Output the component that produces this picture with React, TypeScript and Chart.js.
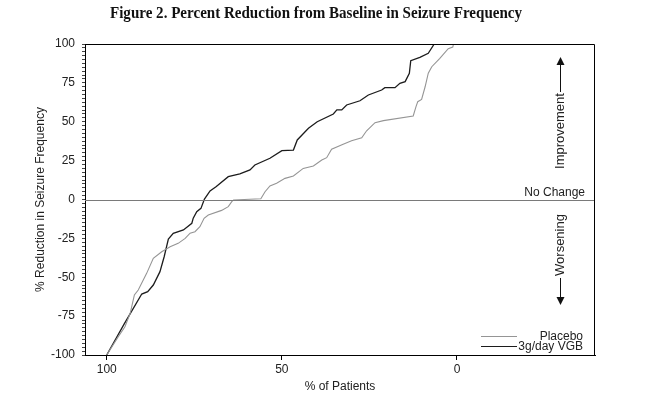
import React, { useEffect, useRef } from "react";
import { Chart, registerables } from "chart.js";

Chart.register(...registerables);

// ---- Data ----
const vgbPct = [100, 95, 90, 88.3, 86.7, 84.8, 83.6, 82.4, 81.0, 78.1, 75.7, 75.3, 74.3, 73.1, 72.1, 70.5, 68.8, 65.3, 62.0, 59.1, 57.7, 53.4, 50.0, 46.7, 45.6, 42.4, 39.9, 35.3, 34.3, 32.9, 31.5, 27.7, 25.3, 21.5, 20.6, 17.7, 16.3, 14.8, 13.6, 13.2, 10.6, 8.2, 6.5];
const vgbReduction = [-100, -80, -60.8, -59.3, -55, -46.4, -36.8, -25.4, -21.8, -19.6, -15.3, -12, -7.8, -5.7, 0.3, 5.5, 8.2, 14.7, 16.5, 19, 22.2, 26.5, 31.4, 31.8, 38.3, 45.8, 50, 55, 57.6, 57.6, 60.8, 63.5, 67.2, 70.4, 71.9, 71.9, 74.7, 75.8, 81.2, 89.3, 91.4, 94, 100];

const placeboPct = [100, 96.7, 94.8, 93.3, 92.1, 91.0, 88.6, 86.7, 84.3, 81.9, 79.6, 77.6, 76.2, 74.8, 73.4, 72.2, 71.0, 67.2, 65.3, 64.3, 63.8, 56.0, 54.8, 53.4, 51.5, 49.1, 46.7, 43.9, 41.0, 38.6, 37.2, 35.8, 32.5, 30.1, 27.2, 25.8, 23.4, 21.0, 12.5, 11.7, 11.2, 10.1, 9.1, 8.2, 7.2, 4.9, 2.5, 1.2, 1.0];
const placeboReduction = [-100, -88.2, -81.8, -73.2, -61.4, -58.2, -47.5, -37.8, -33.6, -30.4, -28.2, -25, -21.7, -20.7, -17.5, -12.1, -10, -7, -4.6, -1.4, -0.3, 0.5, 5, 8.7, 10.4, 13.6, 15.1, 20, 21.5, 25.4, 26.9, 32.3, 35.5, 37.8, 39.7, 44.2, 49.4, 50.7, 53.7, 59.7, 62.9, 64.4, 72.5, 81.2, 85.4, 90.8, 97, 98, 100];

const seriesLabels = ["Placebo", "3g/day VGB"];
const xTickValues = [100, 50, 0];
const yTickLabels = [-100, -75, -50, -25, 0, 25, 50, 75, 100];
const yMinorStep = 2.5;

const titleText = "Figure 2. Percent Reduction from Baseline in Seizure Frequency";
const xTitle = "% of Patients";
const yTitle = "% Reduction in Seizure Frequency";
const upLabel = "Improvement";
const downLabel = "Worsening";
const zeroLabel = "No Change";

const SANS = "'Liberation Sans', Arial, sans-serif";

const decorPlugin = {
  id: "decor",
  afterDraw(chart: any) {
    const { ctx, chartArea, scales } = chart;
    const { left, right, top, bottom } = chartArea;
    const y0 = scales.y.getPixelForValue(0);
    ctx.save();

    // zero line
    ctx.strokeStyle = "#7a7a7a";
    ctx.lineWidth = 1;
    ctx.beginPath();
    ctx.moveTo(left, Math.round(y0) + 0.5);
    ctx.lineTo(right, Math.round(y0) + 0.5);
    ctx.stroke();

    // top and right border
    ctx.strokeStyle = "#000";
    ctx.beginPath();
    ctx.moveTo(left, top + 0.5);
    ctx.lineTo(right - 0.5, top + 0.5);
    ctx.lineTo(right - 0.5, bottom);
    ctx.stroke();

    // title
    ctx.fillStyle = "#111";
    ctx.font = "bold 16px 'Liberation Serif', 'Times New Roman', serif";
    ctx.textAlign = "center";
    ctx.textBaseline = "middle";
    const w = ctx.measureText(titleText).width;
    ctx.save();
    ctx.translate(316, 14);
    ctx.scale(412 / w, 1);
    ctx.fillText(titleText, 0, 0);
    ctx.restore();

    // No Change
    ctx.fillStyle = "#222";
    ctx.font = "12px " + SANS;
    ctx.textAlign = "right";
    ctx.textBaseline = "middle";
    ctx.fillText(zeroLabel, right - 10, y0 - 7);

    // arrows
    const ax = right - 35;
    ctx.strokeStyle = "#111";
    ctx.fillStyle = "#111";
    ctx.lineWidth = 1;
    ctx.beginPath();
    ctx.moveTo(ax + 0.5, top + 19);
    ctx.lineTo(ax + 0.5, top + 48);
    ctx.stroke();
    ctx.beginPath();
    ctx.moveTo(ax + 0.5, top + 13);
    ctx.lineTo(ax - 3.5, top + 21);
    ctx.lineTo(ax + 4.5, top + 21);
    ctx.closePath();
    ctx.fill();
    ctx.beginPath();
    ctx.moveTo(ax + 0.5, bottom - 77);
    ctx.lineTo(ax + 0.5, bottom - 55);
    ctx.stroke();
    ctx.beginPath();
    ctx.moveTo(ax + 0.5, bottom - 50);
    ctx.lineTo(ax - 3.5, bottom - 58);
    ctx.lineTo(ax + 4.5, bottom - 58);
    ctx.closePath();
    ctx.fill();

    ctx.font = "13px " + SANS;
    ctx.textAlign = "center";
    ctx.textBaseline = "middle";
    ctx.fillStyle = "#222";
    ctx.save();
    ctx.translate(ax, top + 87);
    ctx.rotate(-Math.PI / 2);
    ctx.fillText(upLabel, 0, 0);
    ctx.restore();
    ctx.save();
    ctx.translate(ax, bottom - 110);
    ctx.rotate(-Math.PI / 2);
    ctx.fillText(downLabel, 0, 0);
    ctx.restore();

    // legend
    const ds = chart.data.datasets;
    const rows = [bottom - 19, bottom - 9];
    ds.forEach((d: any, i: number) => {
      const yy = Math.round(rows[i]) + 0.5;
      ctx.strokeStyle = d.borderColor;
      ctx.lineWidth = 1;
      ctx.beginPath();
      ctx.moveTo(right - 114, yy);
      ctx.lineTo(right - 78, yy);
      ctx.stroke();
      ctx.fillStyle = "#222";
      ctx.font = "12px " + SANS;
      ctx.textAlign = "right";
      ctx.textBaseline = "middle";
      ctx.fillText(d.label, right - 12, yy);
    });

    ctx.restore();
  },
};

export default function App() {
  const ref = useRef<HTMLCanvasElement>(null);

  useEffect(() => {
    const canvas = ref.current;
    if (!canvas) return;
    const chart = new Chart(canvas, {
      type: "line",
      data: {
        datasets: [
          {
            label: seriesLabels[0],
            data: placeboPct.map((x, i) => ({ x, y: placeboReduction[i] })),
            borderColor: "#959595",
            borderWidth: 1.1,
            pointRadius: 0,
            tension: 0,
          },
          {
            label: seriesLabels[1],
            data: vgbPct.map((x, i) => ({ x, y: vgbReduction[i] })),
            borderColor: "#1c1c1c",
            borderWidth: 1.3,
            pointRadius: 0,
            tension: 0,
          },
        ],
      },
      options: {
        responsive: false,
        animation: false,
        layout: { padding: { top: 44, right: 50, left: 0, bottom: 0 } },
        plugins: {
          legend: { display: false },
          tooltip: { enabled: false },
          title: { display: false },
        },
        scales: {
          x: {
            type: "linear",
            reverse: true,
            min: -39.4,
            max: 106.2,
            afterBuildTicks: (s: any) => {
              s.ticks = xTickValues.map((v) => ({ value: v }));
            },
            afterFit: (s: any) => {
              s.height = 48;
            },
            grid: { drawOnChartArea: false, tickLength: 5, color: "#000" },
            border: { color: "#000", width: 1 },
            ticks: {
              color: "#222",
              font: { family: SANS, size: 12 },
              padding: 2,
              maxRotation: 0,
              autoSkip: false,
              callback: (v: any) => String(v),
            },
            title: {
              display: true,
              text: xTitle,
              color: "#222",
              font: { family: SANS, size: 12 },
              padding: { top: 4, bottom: 9 },
            },
          },
          y: {
            type: "linear",
            min: -100,
            max: 100,
            afterBuildTicks: (s: any) => {
              const lo = yTickLabels[0];
              const hi = yTickLabels[yTickLabels.length - 1];
              const t: any[] = [];
              const n = Math.round((hi - lo) / yMinorStep);
              for (let k = 0; k <= n; k++) t.push({ value: lo + k * yMinorStep });
              s.ticks = t;
            },
            afterFit: (s: any) => {
              s.width = 85;
            },
            grid: { drawOnChartArea: false, tickLength: 3, color: "#444" },
            border: { color: "#000", width: 1 },
            ticks: {
              autoSkip: false,
              color: "#222",
              font: { family: SANS, size: 12 },
              padding: 7,
              callback: (v: any) => (yTickLabels.includes(Number(v)) ? String(v) : ""),
            },
            title: {
              display: true,
              text: yTitle,
              color: "#222",
              font: { family: SANS, size: 12 },
              padding: { top: 33, bottom: 0 },
            },
          },
        },
      },
      plugins: [decorPlugin],
    } as any);
    return () => chart.destroy();
  }, []);

  return (
    <div style={{ position: "absolute", left: 0, top: 0, width: 645, height: 403, background: "#fff" }}>
      <canvas ref={ref} width={645} height={403} style={{ display: "block", width: 645, height: 403 }} />
    </div>
  );
}
